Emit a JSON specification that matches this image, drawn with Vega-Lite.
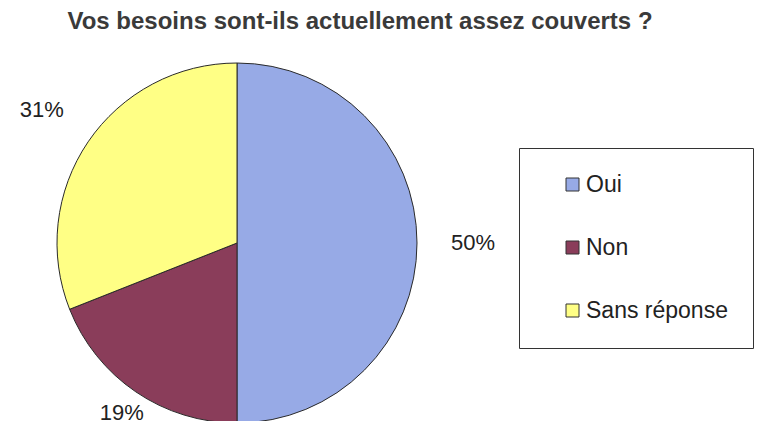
{
  "$schema": "https://vega.github.io/schema/vega-lite/v6.json",
  "autosize": "none",
  "width": 380,
  "height": 350,
  "padding": {"left": 47, "top": 68, "right": 333, "bottom": 3},
  "background": "white",
  "title": {
    "text": "Vos besoins sont-ils actuellement assez couverts ?",
    "anchor": "middle",
    "dx": 123,
    "offset": 27,
    "font": "Liberation Sans",
    "fontSize": 24,
    "fontWeight": "bold",
    "color": "#3a3a3a"
  },
  "data": {
    "values": [
      {"reponse": "Oui", "pct": 50, "ordre": 1, "label": "50%"},
      {"reponse": "Non", "pct": 19, "ordre": 2, "label": "19%"},
      {"reponse": "Sans réponse", "pct": 31, "ordre": 3, "label": "31%"}
    ]
  },
  "encoding": {
    "theta": {"field": "pct", "type": "quantitative", "stack": true},
    "order": {"field": "ordre", "type": "quantitative"}
  },
  "layer": [
    {
      "mark": {"type": "arc", "outerRadius": 180, "stroke": "#2a2a2a", "strokeWidth": 1},
      "encoding": {
        "color": {
          "field": "reponse",
          "type": "nominal",
          "sort": ["Oui", "Non", "Sans réponse"],
          "scale": {"domain": ["Oui", "Non", "Sans réponse"], "range": ["#97aae6", "#8a3d5a", "#ffff85"]},
          "legend": {
            "title": null,
            "orient": "none",
            "legendX": 472,
            "legendY": 80,
            "direction": "vertical",
            "symbolType": "square",
            "symbolSize": 169,
            "symbolStrokeColor": "#333",
            "symbolStrokeWidth": 1,
            "symbolOffset": 17,
            "labelFont": "Liberation Sans",
            "labelFontSize": 23,
            "labelColor": "#222",
            "labelOffset": 2,
            "rowPadding": 39,
            "padding": 25,
            "strokeColor": "#333",
            "fillColor": "white",
            "labelLimit": 300
          }
        }
      }
    },
    {
      "mark": {"type": "text", "radius": 236, "font": "Liberation Sans", "fontSize": 22, "color": "#222"},
      "encoding": {
        "text": {"condition": {"test": "datum.reponse !== 'Non'", "field": "label"}, "value": ""}
      }
    },
    {
      "mark": {"type": "text", "radius": 205, "font": "Liberation Sans", "fontSize": 22, "color": "#222"},
      "encoding": {
        "text": {"condition": {"test": "datum.reponse === 'Non'", "field": "label"}, "value": ""}
      }
    }
  ]
}
